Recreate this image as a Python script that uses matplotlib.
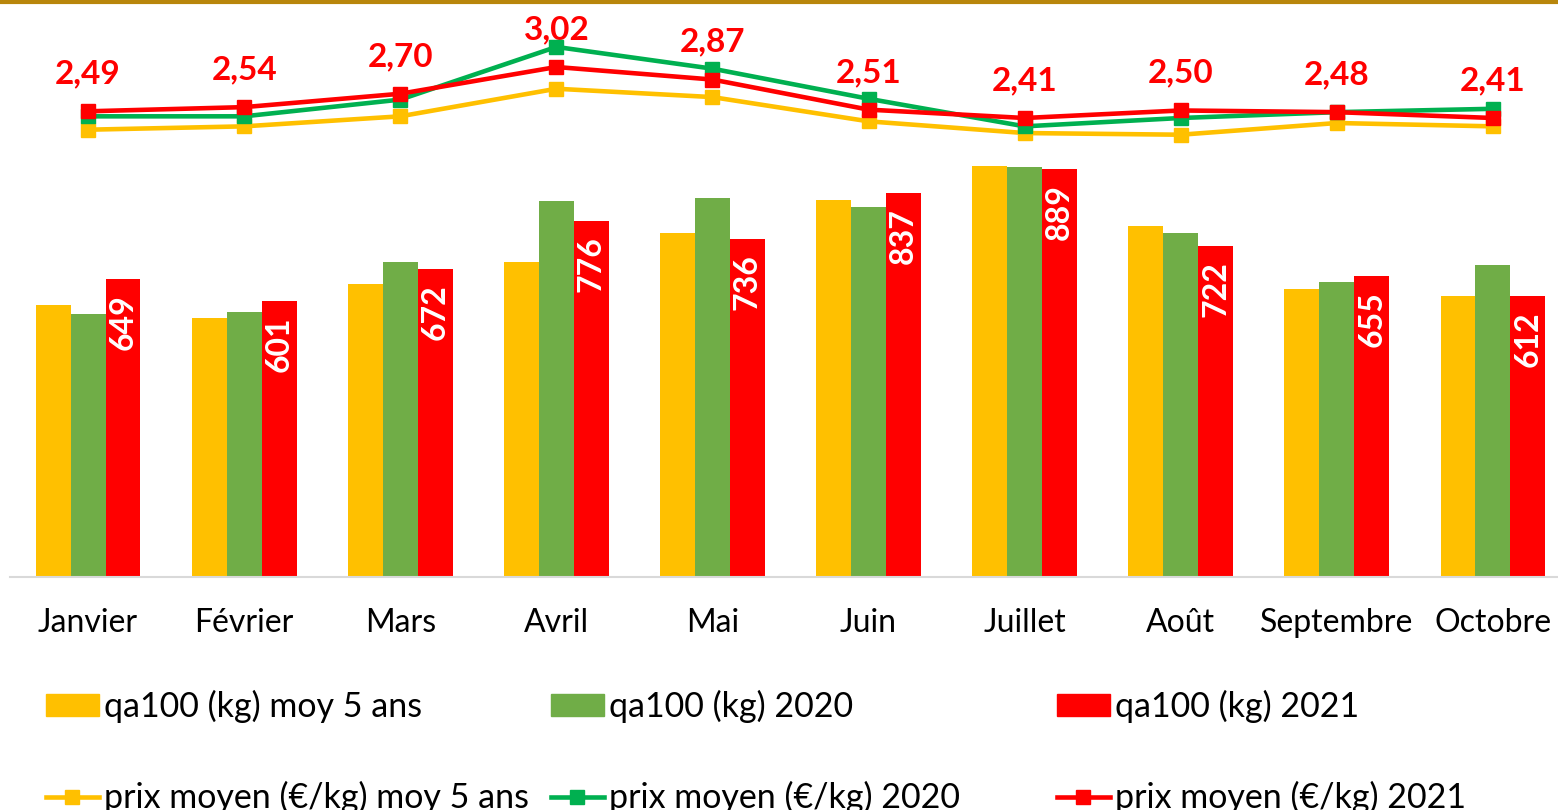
import numpy as np
import matplotlib
matplotlib.use('Agg')
import matplotlib.pyplot as plt
from matplotlib.lines import Line2D
from matplotlib.patches import Patch

plt.rcParams['font.family'] = ['Lato', 'DejaVu Sans']

# Data
mois = ['Janvier', 'Février', 'Mars', 'Avril', 'Mai', 'Juin',
        'Juillet', 'Août', 'Septembre', 'Octobre']

qa_moy5 = [593, 564, 638, 686, 749, 821, 895, 765, 627, 612]
qa_2020 = [573, 577, 686, 819, 826, 806, 893, 749, 643, 680]
qa_2021 = [649, 601, 672, 776, 736, 837, 889, 722, 655, 612]

prix_moy5 = [2.27, 2.31, 2.43, 2.76, 2.66, 2.37, 2.23, 2.21, 2.35, 2.31]
prix_2020 = [2.43, 2.43, 2.63, 3.26, 3.00, 2.64, 2.31, 2.41, 2.48, 2.52]
prix_2021 = [2.49, 2.54, 2.70, 3.02, 2.87, 2.51, 2.41, 2.50, 2.48, 2.41]

# Colours
c_yel = '#FFC000'
c_grn = '#70AD47'
c_red = '#FF0000'
c_grn_line = '#00B050'

W, H = 1558, 810
fig = plt.figure(figsize=(W / 100, H / 100), dpi=100)

# axes: x centres at 88 px, spacing 156.1 px ; baseline at y=577 px
left = 10 / W
width = 10 * 156.1 / W
bottom = (H - 577) / H
height = 577 / H
ax = fig.add_axes([left, bottom, width, height])

x = np.arange(len(mois))
bw = 0.224
ax.bar(x - bw, qa_moy5, bw, color=c_yel, zorder=2)
ax.bar(x, qa_2020, bw, color=c_grn, zorder=2)
ax.bar(x + bw, qa_2021, bw, color=c_red, zorder=2)

for xi, v in zip(x, qa_2021):
    ax.annotate(str(v), (xi + bw, v), xytext=(0, -11), textcoords='offset points',
                rotation=90, ha='center', va='top', color='white',
                fontsize=23, fontweight='bold')

ax.set_xlim(-0.5, 9.5)
ax.set_ylim(0, 577 / 0.459)
ax.set_yticks([])
ax.set_xticks(x)
ax.set_xticklabels(mois, fontsize=23)
ax.tick_params(axis='x', length=0, pad=22)
for s in ['top', 'left', 'right']:
    ax.spines[s].set_visible(False)
ax.spines['bottom'].set_color('#D9D9D9')
ax.spines['bottom'].set_linewidth(1.5)

# Price lines on secondary axis
ax2 = ax.twinx()
lw = 3.3
ms = 10
ax2.plot(x, prix_moy5, color=c_yel, lw=lw, marker='s', ms=ms, zorder=3)
ax2.plot(x, prix_2020, color=c_grn_line, lw=lw, marker='s', ms=ms, zorder=4)
ax2.plot(x, prix_2021, color=c_red, lw=lw, marker='s', ms=ms, zorder=5)
for xi, v in zip(x, prix_2021):
    ax2.annotate(f'{v:.2f}'.replace('.', ','), (xi, v), xytext=(0, 20),
                 textcoords='offset points', ha='center', va='baseline',
                 color=c_red, fontsize=24, fontweight='bold')
ax2.set_ylim(3.02 - 510 / 83.6, 3.02 + 67 / 83.6)
ax2.set_yticks([])
for s in ['top', 'left', 'right', 'bottom']:
    ax2.spines[s].set_visible(False)

# top border line
fig.add_artist(Line2D([0, 1], [1 - 1.5 / H, 1 - 1.5 / H], color='#B8860B', lw=3))

# Legend: three columns, two rows
bar_handles = [Patch(color=c_yel), Patch(color=c_grn), Patch(color=c_red)]
line_handles = [Line2D([], [], color=c, lw=lw, marker='s', ms=ms)
                for c in (c_yel, c_grn_line, c_red)]
bar_labels = ['qa100 (kg) moy 5 ans', 'qa100 (kg) 2020', 'qa100 (kg) 2021']
line_labels = ['prix moyen (€/kg) moy 5 ans', 'prix moyen (€/kg) 2020',
               'prix moyen (€/kg) 2021']
col_x = [46, 551, 1057]
for i in range(3):
    leg = fig.legend([bar_handles[i], line_handles[i]], [bar_labels[i], line_labels[i]],
                     loc='upper left', bbox_to_anchor=(col_x[i] / W, 1 - 690 / H),
                     frameon=False, fontsize=24.5, handlelength=1.55, handleheight=0.6,
                     handletextpad=0.15, labelspacing=1.7, borderaxespad=0,
                     borderpad=0)

fig.savefig('out.png', dpi=100)
